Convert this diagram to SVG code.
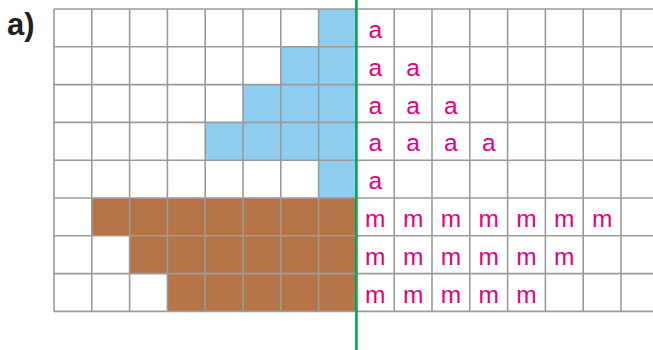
<svg xmlns="http://www.w3.org/2000/svg" width="653" height="350" viewBox="0 0 653 350">
<style>
.b{fill:#8ecdf0}
.r{fill:#b57548}
.g{stroke:#9b9b9b;stroke-width:1.6;fill:none}
.t{font-family:"Liberation Sans",Arial,sans-serif;font-size:24.5px;fill:#e6007e;text-anchor:middle}
</style>
<rect width="653" height="350" fill="#fff"/>
<text x="7" y="35" font-family="Liberation Sans,Arial,sans-serif" font-size="31" font-weight="bold" fill="#231f20">a)</text>
<g id="fills">
<rect class="b" x="318.6" y="9" width="37.8" height="37.8"/>
<rect class="b" x="280.8" y="46.8" width="75.6" height="37.8"/>
<rect class="b" x="243" y="84.6" width="113.4" height="37.8"/>
<rect class="b" x="205.2" y="122.4" width="151.2" height="37.8"/>
<rect class="b" x="318.6" y="160.2" width="37.8" height="37.8"/>
<rect class="r" x="91.8" y="198" width="264.6" height="37.8"/>
<rect class="r" x="129.6" y="235.8" width="226.8" height="37.8"/>
<rect class="r" x="167.4" y="273.6" width="189" height="37.8"/>
</g>
<g id="grid" class="g">
<path d="M54 9H653M54 46.8H653M54 84.6H653M54 122.4H653M54 160.2H653M54 198H653M54 235.8H653M54 273.6H653M54 311.4H653"/>
<path d="M54 9V311.4M91.8 9V311.4M129.6 9V311.4M167.4 9V311.4M205.2 9V311.4M243 9V311.4M280.8 9V311.4M318.6 9V311.4M394.2 9V311.4M432 9V311.4M469.8 9V311.4M507.6 9V311.4M545.4 9V311.4M583.2 9V311.4M621 9V311.4"/>
</g>
<line id="axis" x1="356.4" y1="0" x2="356.4" y2="350" stroke="#00a651" stroke-width="2.6"/>
<g id="letters" class="t">
<text x="375.3" y="38">a</text>
<text x="375.3" y="75.8">a</text><text x="413.1" y="75.8">a</text>
<text x="375.3" y="113.6">a</text><text x="413.1" y="113.6">a</text><text x="450.9" y="113.6">a</text>
<text x="375.3" y="151.4">a</text><text x="413.1" y="151.4">a</text><text x="450.9" y="151.4">a</text><text x="488.7" y="151.4">a</text>
<text x="375.3" y="189.2">a</text>
<text x="375.3" y="227">m</text><text x="413.1" y="227">m</text><text x="450.9" y="227">m</text><text x="488.7" y="227">m</text><text x="526.5" y="227">m</text><text x="564.3" y="227">m</text><text x="602.1" y="227">m</text>
<text x="375.3" y="264.8">m</text><text x="413.1" y="264.8">m</text><text x="450.9" y="264.8">m</text><text x="488.7" y="264.8">m</text><text x="526.5" y="264.8">m</text><text x="564.3" y="264.8">m</text>
<text x="375.3" y="302.6">m</text><text x="413.1" y="302.6">m</text><text x="450.9" y="302.6">m</text><text x="488.7" y="302.6">m</text><text x="526.5" y="302.6">m</text>
</g>
</svg>
